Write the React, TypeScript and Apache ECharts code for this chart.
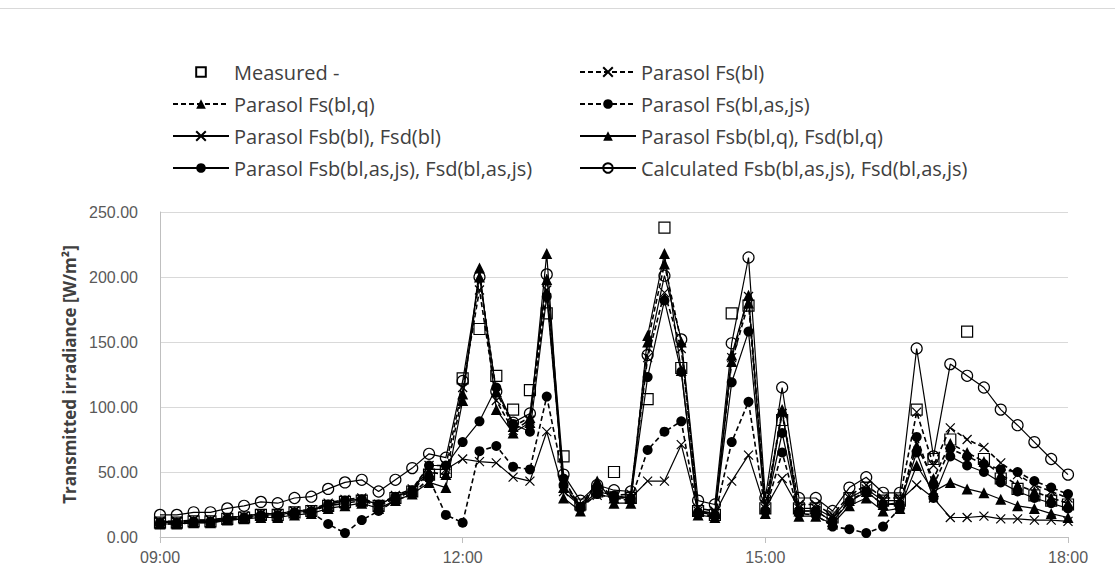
import React, { useEffect, useRef } from "react";
import * as echarts from "echarts";

const TIMES = [
  "09:00","09:10","09:20","09:30","09:40","09:50","10:00","10:10","10:20","10:30",
  "10:40","10:50","11:00","11:10","11:20","11:30","11:40","11:50","12:00","12:10",
  "12:20","12:30","12:40","12:50","13:00","13:10","13:20","13:30","13:40","13:50",
  "14:00","14:10","14:20","14:30","14:40","14:50","15:00","15:10","15:20","15:30",
  "15:40","15:50","16:00","16:10","16:20","16:30","16:40","16:50","17:00","17:10",
  "17:20","17:30","17:40","17:50","18:00",
];

const X_TICKS = ["09:00", "12:00", "15:00", "18:00"];
const Y_TICKS = [0, 50, 100, 150, 200, 250];

const MEASURED = [
  11,11,12,12,14,15,17,17,19,20, 24,27,28,24,30,35,48,50,122,160,
  124,98,113,172,62,25,35,50,30,106, 238,130,20,17,172,178,22,90,22,22,
  15,30,38,28,28,98,60,75,158,60, 45,37,32,28,25,
];
const FS_BL = [
  12,12,13,13,15,16,18,18,20,21, 26,29,30,25,32,37,55,55,115,190,
  105,82,90,190,42,25,36,32,33,138, 188,145,22,20,138,185,25,95,25,25,
  17,32,40,30,30,96,55,84,75,69, 57,48,40,35,30,
];
const FS_Q = [
  11,11,12,12,14,15,17,16,19,20, 24,26,28,24,30,35,50,48,110,200,
  112,85,92,198,38,24,42,30,30,150, 210,150,20,18,135,180,22,98,20,20,
  12,28,35,25,26,70,45,72,65,58, 48,40,35,30,26,
];
const FS_AS = [
  10,10,11,11,13,14,16,16,18,19, 10,3,13,20,28,33,45,17,11,66,
  70,54,52,108,45,22,33,30,28,67, 81,89,18,16,73,104,20,65,18,17,
  8,6,3,8,22,77,40,68,62,56, 52,50,43,38,33,
];
const FSB_BL = [
  12,12,13,13,15,16,18,18,20,21, 25,28,29,25,31,36,52,52,60,58,
  57,46,43,81,35,24,32,31,30,43, 43,71,20,18,43,63,22,45,22,22,
  15,30,37,28,28,40,30,15,15,16, 14,14,13,13,12,
];
const FSB_Q = [
  10,10,11,11,13,14,15,15,17,18, 22,24,26,22,28,33,42,38,105,207,
  98,80,88,218,30,20,43,26,26,155, 218,128,17,15,140,186,18,97,16,16,
  10,24,30,20,22,55,35,42,37,34, 29,24,22,18,15,
];
const FSB_AS = [
  11,11,12,12,14,15,17,17,19,20, 25,28,29,25,31,36,55,55,73,89,
  115,87,81,185,40,23,35,32,30,123, 182,127,19,17,119,158,20,80,20,20,
  12,27,35,25,25,65,30,62,55,50, 42,35,30,26,22,
];
const CALC = [
  17,17,19,19,22,24,27,26,30,31, 37,42,44,35,44,53,64,61,120,200,
  112,88,95,202,48,28,40,36,35,140, 201,152,28,25,149,215,30,115,30,30,
  20,38,46,34,34,145,62,133,124,115, 98,86,73,60,48,
];

const NAMES = [
  "Measured -",
  "Parasol Fs(bl)",
  "Parasol Fs(bl,q)",
  "Parasol Fs(bl,as,js)",
  "Parasol Fsb(bl), Fsd(bl)",
  "Parasol Fsb(bl,q), Fsd(bl,q)",
  "Parasol Fsb(bl,as,js), Fsd(bl,as,js)",
  "Calculated Fsb(bl,as,js), Fsd(bl,as,js)",
];

const toMin = (s: string) => parseInt(s.slice(0, 2), 10) * 60 + parseInt(s.slice(3), 10);
const fmt = (m: number) => {
  const h = Math.floor(m / 60);
  const mm = m % 60;
  return `${h < 10 ? "0" : ""}${h}:${mm < 10 ? "0" : ""}${mm}`;
};

const CROSS = "path://M0,0L10,10M10,0L0,10";

export default function App() {
  const ref = useRef<HTMLDivElement>(null);
  useEffect(() => {
    if (!ref.current) return;
    const chart = echarts.init(ref.current, undefined, { renderer: "svg" });
    const pts = (arr: number[]) => TIMES.map((t, i) => [toMin(t), arr[i]]);
    const black = "#000000";
    const mk = (
      name: string,
      arr: number[],
      symbol: string,
      size: number,
      dashed: boolean,
      filled: boolean,
      noLine = false
    ) => ({
      name,
      type: "line",
      data: pts(arr),
      symbol,
      symbolSize: size,
      showSymbol: true,
      showAllSymbol: true,
      lineStyle: {
        color: black,
        width: noLine ? 0 : dashed ? 1.6 : 1.2,
        type: dashed ? [5, 3] : "solid",
        opacity: noLine ? 0 : 1,
      },
      itemStyle: {
        color: filled ? black : "rgba(255,255,255,0)",
        borderColor: black,
        borderWidth: filled ? 0 : 1.2,
      },
      emphasis: { disabled: true },
      z: 2,
    });
    const series = [
      mk(NAMES[0], MEASURED, "rect", 11, false, false, true),
      mk(NAMES[1], FS_BL, CROSS, 9, true, false),
      mk(NAMES[2], FS_Q, "triangle", 11, true, true),
      mk(NAMES[3], FS_AS, "circle", 10, true, true),
      mk(NAMES[4], FSB_BL, CROSS, 9, false, false),
      mk(NAMES[5], FSB_Q, "triangle", 11, false, true),
      mk(NAMES[6], FSB_AS, "circle", 10, false, true),
      mk(NAMES[7], CALC, "circle", 11, false, false),
    ];
    const legendText = {
      color: "#404040",
      fontSize: 20,
      fontFamily: "Open Sans, Noto Sans, sans-serif",
    };
    chart.setOption({
      animation: false,
      textStyle: { fontFamily: "Liberation Sans, Arial, sans-serif" },
      graphic: [
        {
          type: "line",
          shape: { x1: 0, y1: 8.5, x2: 1115, y2: 8.5 },
          style: { stroke: "#d9d9d9", lineWidth: 1 },
        },
      ],
      legend: [
        {
          orient: "vertical",
          left: 167,
          top: 57,
          itemWidth: 56,
          itemHeight: 12,
          itemGap: 12,
          textStyle: legendText,
          data: [NAMES[0], NAMES[2], NAMES[4], NAMES[6]],
          selectedMode: false,
        },
        {
          orient: "vertical",
          left: 574,
          top: 57,
          itemWidth: 56,
          itemHeight: 12,
          itemGap: 12,
          textStyle: legendText,
          data: [NAMES[1], NAMES[3], NAMES[5], NAMES[7]],
          selectedMode: false,
        },
      ],
      grid: { left: 160, right: 47, top: 212, bottom: 51, containLabel: false },
      xAxis: {
        type: "value",
        min: toMin(X_TICKS[0]),
        max: toMin(X_TICKS[X_TICKS.length - 1]),
        interval: 180,
        axisLine: { show: true, lineStyle: { color: "#bfbfbf", width: 1 } },
        axisTick: { show: true, length: 6, lineStyle: { color: "#bfbfbf" } },
        splitLine: { show: false },
        axisLabel: {
          color: "#595959",
          fontSize: 16,
          margin: 12,
          formatter: (v: number) => fmt(v),
        },
      },
      yAxis: {
        type: "value",
        min: Y_TICKS[0],
        max: Y_TICKS[Y_TICKS.length - 1],
        interval: 50,
        name: "Transmitted irradiance [W/m²]",
        nameLocation: "middle",
        nameRotate: 90,
        nameGap: 34,
        nameTextStyle: {
          color: "#404040",
          fontSize: 17,
          fontWeight: "bold",
          fontFamily: "Open Sans, Noto Sans, sans-serif",
        },
        axisLine: { show: true, lineStyle: { color: "#bfbfbf", width: 1 } },
        axisTick: { show: false },
        splitLine: { show: true, lineStyle: { color: "#d9d9d9", width: 1.2 } },
        axisLabel: {
          color: "#595959",
          fontSize: 16,
          margin: 22,
          formatter: (v: number) => v.toFixed(2),
        },
      },
      series,
    });
    return () => chart.dispose();
  }, []);
  return (
    <div
      ref={ref}
      style={{ position: "fixed", left: 0, top: 0, width: 1115, height: 588, background: "#fff" }}
    />
  );
}
